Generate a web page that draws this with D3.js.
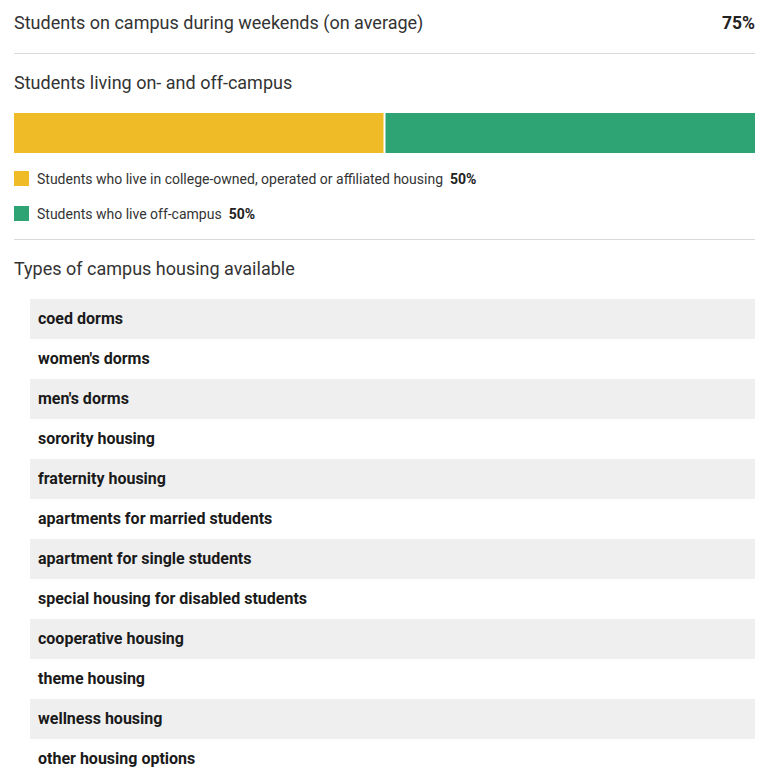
<!DOCTYPE html>
<html><head><meta charset="utf-8">
<script src="https://cdn.jsdelivr.net/npm/d3@7"></script>
<style>
html,body{margin:0;padding:0;background:#fff;}
svg{display:block;font-family:Roboto,"Noto Sans",sans-serif;}
</style></head>
<body>
<svg id="chart" width="769" height="782"></svg>
<script>
const weekendLabel = "Students on campus during weekends (on average)";
const weekendValue = 75;
const splitTitle = "Students living on- and off-campus";
const splitLabels = ["Students who live in college-owned, operated or affiliated housing", "Students who live off-campus"];
const splitValues = [50, 50];
const splitColors = ["#efbb27", "#2ea374"];
const housingTitle = "Types of campus housing available";
const housingTypes = ["coed dorms","women's dorms","men's dorms","sorority housing","fraternity housing","apartments for married students","apartment for single students","special housing for disabled students","cooperative housing","theme housing","wellness housing","other housing options"];

const svg = d3.select("#chart");
const L = 14, R = 755;

// section 1
svg.append("text").attr("x", L).attr("y", 29).attr("font-size", 18).attr("fill", "#333").text(weekendLabel);
svg.append("text").attr("x", R).attr("y", 29).attr("font-size", 17.5).attr("font-weight", "bold").attr("fill", "#222").attr("text-anchor", "end").text(weekendValue + "%");
svg.append("line").attr("x1", L).attr("x2", R).attr("y1", 53.5).attr("y2", 53.5).attr("stroke", "#d9d9d9");

// section 2
svg.append("text").attr("x", L).attr("y", 89).attr("font-size", 18).attr("fill", "#333").text(splitTitle);
const total = d3.sum(splitValues);
const x = d3.scaleLinear().domain([0, total]).range([L, R]);
const cum = d3.cumsum(splitValues);
const segs = splitValues.map((v, i) => ({v, i, x0: cum[i] - v, x1: cum[i]}));
svg.selectAll("rect.seg").data(segs).join("rect").attr("class", "seg")
  .attr("x", d => x(d.x0) + (d.i > 0 ? 1 : 0))
  .attr("width", d => x(d.x1) - x(d.x0) - 1)
  .attr("y", 113).attr("height", 40)
  .attr("fill", d => splitColors[d.i]);

const leg = svg.selectAll("g.leg").data(segs).join("g").attr("class", "leg")
  .attr("transform", d => `translate(${L},${171 + d.i * 35})`);
leg.append("rect").attr("width", 15).attr("height", 15).attr("fill", d => splitColors[d.i]);
const lt = leg.append("text").attr("x", 23).attr("y", 13).attr("font-size", 14).attr("fill", "#333");
lt.append("tspan").text(d => splitLabels[d.i]);
lt.append("tspan").attr("dx", 7).attr("font-weight", "bold").attr("fill", "#222").attr("font-size", 14).text(d => d.v + "%");
svg.append("line").attr("x1", L).attr("x2", R).attr("y1", 239.5).attr("y2", 239.5).attr("stroke", "#d9d9d9");

// section 3
svg.append("text").attr("x", L).attr("y", 275).attr("font-size", 18).attr("fill", "#333").text(housingTitle);
const y = d3.scaleBand().domain(housingTypes).range([299, 299 + 40 * housingTypes.length]);
const rows = svg.selectAll("g.row").data(housingTypes).join("g").attr("class", "row")
  .attr("transform", d => `translate(0,${y(d)})`);
rows.append("rect").attr("x", 30).attr("width", R - 30).attr("height", y.bandwidth())
  .attr("fill", (d, i) => i % 2 === 0 ? "#efeff0" : "#ffffff");
rows.append("text").attr("x", 38).attr("y", 25).attr("font-size", 16).attr("font-weight", "bold").attr("fill", "#1a1a1a").text(d => d);
</script>
</body></html>
